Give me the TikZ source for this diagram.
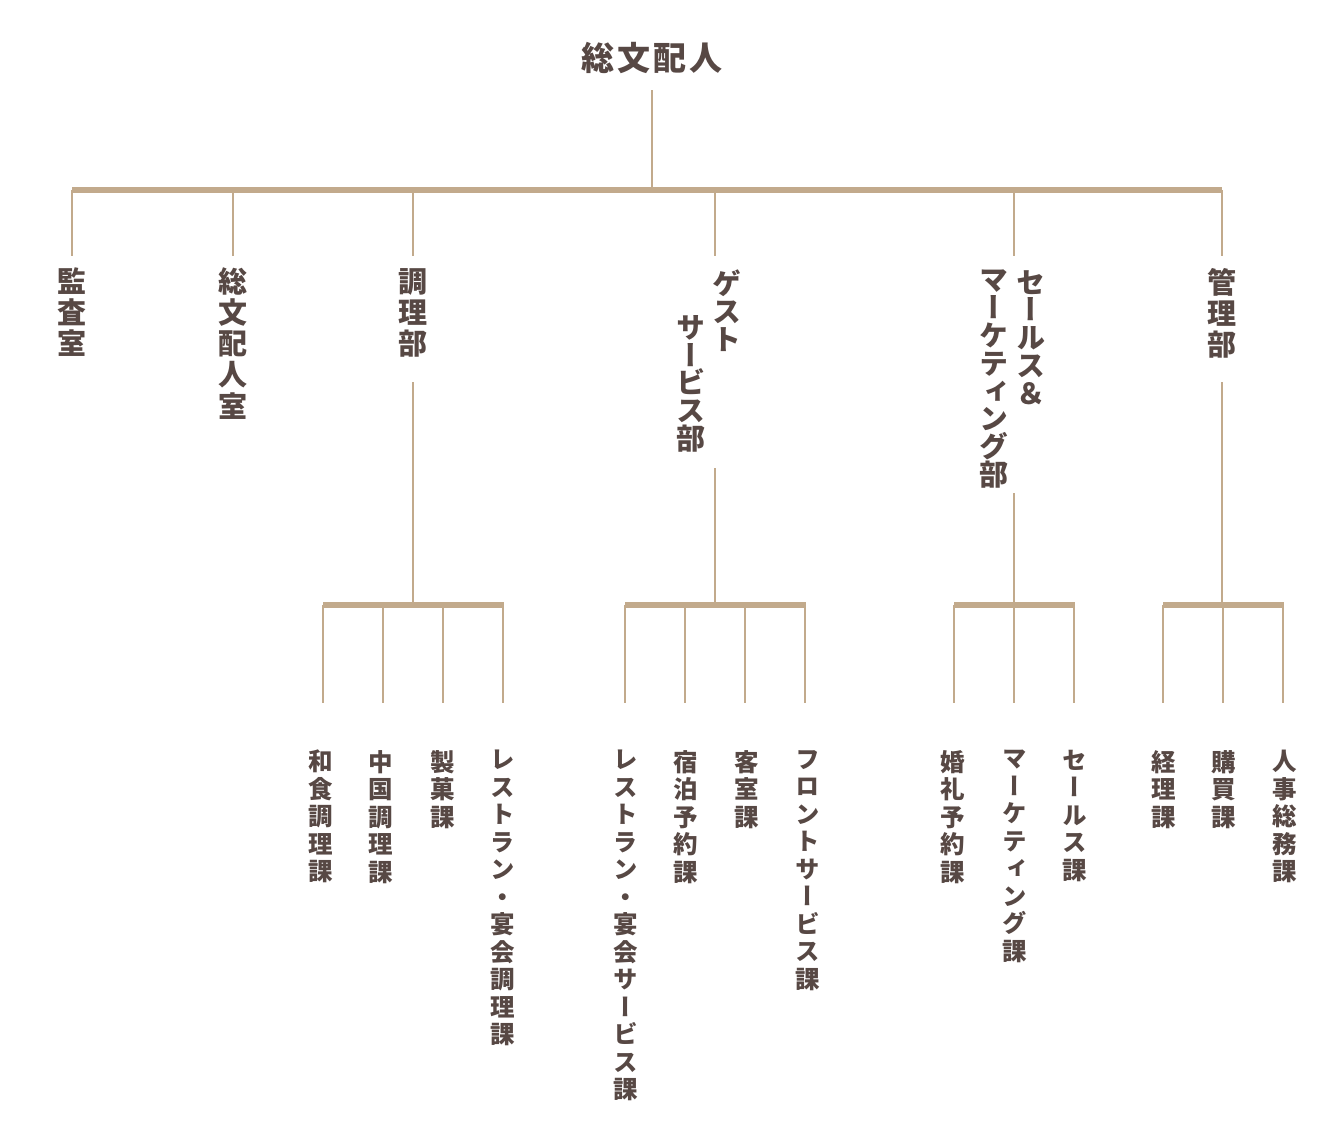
\documentclass[tikz,border=0pt]{standalone}
\usepackage{fontspec}
\newfontfamily\jpv[RawFeature=+vert]{Noto Sans CJK JP}
\newfontfamily\jph{Noto Sans CJK JP}
\definecolor{txt}{HTML}{574844}
\definecolor{ln}{HTML}{C2AA8C}
\begin{document}
\begin{tikzpicture}[x=1bp,y=-1bp,
  vhead/.style={font=\jpv\bfseries\fontsize{29bp}{31.3bp}\selectfont, align=center, inner sep=0pt, anchor=north, text=txt},
  vheadk/.style={vhead, font=\jpv\bfseries\fontsize{29bp}{27.8bp}\selectfont},
  vsub/.style={font=\jpv\bfseries\fontsize{24.5bp}{27.5bp}\selectfont, align=center, inner sep=0pt, anchor=north, text=txt},
  thinln/.style={draw=ln, line width=1.8bp},
  barln/.style={draw=ln, line width=6bp},
]
\useasboundingbox (0,0) rectangle (1340,1122);
% title
\node[font=\jph\bfseries\fontsize{33bp}{36bp}\selectfont, text=txt, inner sep=0pt] (title) at (652,58) {総\hspace{3bp}文\hspace{3bp}配\hspace{3bp}人};
% headings
\node[vhead] (kansa) at (72,267) {監\\査\\室};
\node[vhead] (soushitsu) at (233,267) {総\\文\\配\\人\\室};
\node[vhead] (chouri) at (413,268) {調\\理\\部};
\node[vheadk] (guestA) at (727,270) {ゲ\\ス\\ト};
\node[vheadk] (guestB) at (691,315) {サ\\ー\\ビ\\ス\\部};
\node[vheadk] (salesA) at (1031,270) {セ\\ー\\ル\\ス\\＆};
\node[vheadk] (salesB) at (994,270) {マ\\ー\\ケ\\テ\\ィ\\ン\\グ\\部};
\node[vhead] (kanri) at (1222,268) {管\\理\\部};
% sub labels
\node[vsub] (s1) at (321,750) {和\\食\\調\\理\\課};
\node[vsub] (s2) at (381,750) {中\\国\\調\\理\\課};
\node[vsub] (s3) at (443,750) {製\\菓\\課};
\node[vsub] (s4) at (503,750) {レ\\ス\\ト\\ラ\\ン\\・\\宴\\会\\調\\理\\課};
\node[vsub] (g1) at (626,750) {レ\\ス\\ト\\ラ\\ン\\・\\宴\\会\\サ\\ー\\ビ\\ス\\課};
\node[vsub] (g2) at (686,750) {宿\\泊\\予\\約\\課};
\node[vsub] (g3) at (747,750) {客\\室\\課};
\node[vsub] (g4) at (808,750) {フ\\ロ\\ン\\ト\\サ\\ー\\ビ\\ス\\課};
\node[vsub] (m1) at (953,750) {婚\\礼\\予\\約\\課};
\node[vsub] (m2) at (1015,750) {マ\\ー\\ケ\\テ\\ィ\\ン\\グ\\課};
\node[vsub] (m3) at (1075,750) {セ\\ー\\ル\\ス\\課};
\node[vsub] (k1) at (1164,750) {経\\理\\課};
\node[vsub] (k2) at (1224,750) {購\\買\\課};
\node[vsub] (k3) at (1285,750) {人\\事\\総\\務\\課};
% coordinates
\coordinate (t0) at (652,90);
\coordinate (tb) at (652,190);
\coordinate (c0) at (413,382);
\coordinate (cb) at (413,605);
\coordinate (gs) at (715,468);
\coordinate (gb) at (715,605);
\coordinate (ms) at (1014,493);
\coordinate (mb) at (1014,605);
\coordinate (k0) at (1222,382);
\coordinate (kb) at (1222,605);
% top connectors
\draw[thinln] (t0) -- (tb);
\draw[barln] (72,190) -- (1222,190);
\foreach \x in {72,233,413,715,1014,1222} \draw[thinln] (\x,190) -- (\x,256);
% chouri
\draw[thinln] (c0) -- (cb);
\draw[barln] (323,605) -- (504,605);
\foreach \x in {323,383,443,503} \draw[thinln] (\x,605) -- (\x,703);
% guest
\draw[thinln] (gs) -- (gb);
\draw[barln] (625,605) -- (806,605);
\foreach \x in {625,685,745,805} \draw[thinln] (\x,605) -- (\x,703);
% sales
\draw[thinln] (ms) -- (mb);
\draw[barln] (954,605) -- (1075,605);
\foreach \x in {954,1014,1074} \draw[thinln] (\x,605) -- (\x,703);
% kanri
\draw[thinln] (k0) -- (kb);
\draw[barln] (1163,605) -- (1284,605);
\foreach \x in {1163,1223,1283} \draw[thinln] (\x,605) -- (\x,703);
\end{tikzpicture}
\end{document}
